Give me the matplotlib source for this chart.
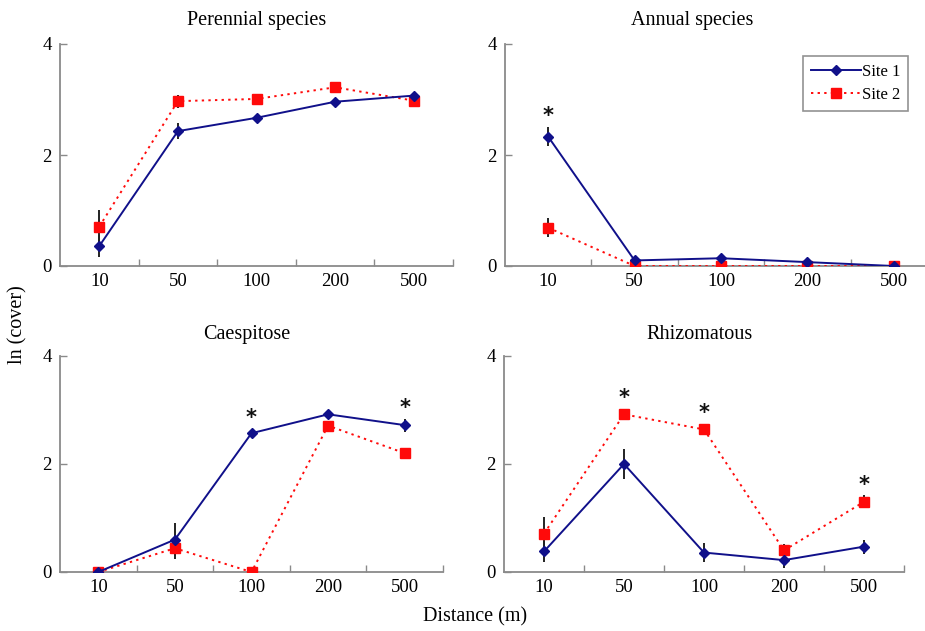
import matplotlib
matplotlib.use("Agg")
import matplotlib.pyplot as plt
from matplotlib.lines import Line2D

plt.rcParams.update({"font.family": ["Liberation Serif", "DejaVu Serif"]})

distances = ["10", "50", "100", "200", "500"]

titles = ["Perennial species", "Annual species", "Caespitose", "Rhizomatous"]

site1 = [
    [0.36, 2.43, 2.67, 2.96, 3.07],
    [2.33, 0.10, 0.14, 0.07, 0.00],
    [0.00, 0.60, 2.57, 2.92, 2.72],
    [0.38, 2.00, 0.36, 0.22, 0.47],
]
site1_err = [
    [0.20, 0.15, 0.05, 0.05, 0.07],
    [0.17, 0.03, 0.05, 0.03, 0.00],
    [0.00, 0.30, 0.08, 0.04, 0.12],
    [0.20, 0.27, 0.17, 0.15, 0.13],
]
site2 = [
    [0.71, 2.97, 3.01, 3.22, 2.98],
    [0.69, 0.00, 0.00, 0.00, 0.00],
    [0.00, 0.44, 0.00, 2.71, 2.20],
    [0.71, 2.92, 2.64, 0.40, 1.30],
]
site2_err = [
    [0.30, 0.12, 0.03, 0.05, 0.07],
    [0.17, 0.00, 0.00, 0.00, 0.00],
    [0.00, 0.20, 0.00, 0.07, 0.10],
    [0.30, 0.10, 0.10, 0.12, 0.12],
]
# significant differences (index of distance class) per panel
stars = [[], [0], [2, 4], [1, 2, 4]]

# axes rectangles in figure fractions (from the reference pixels)
W, H = 925, 631
rects = [
    (60, 44, 453, 266),
    (505, 44, 937, 266),
    (60, 356, 443, 572),
    (504, 356, 904, 572),
]
title_pos = [(257, 20), (692, 20), (247, 334), (700, 334)]

C1 = "#10108a"
C2 = "#ff0a0a"
SPINE = "#8a8a8a"

fig = plt.figure(figsize=(W / 100, H / 100), dpi=100)

for k in range(4):
    x0, y0, x1, y1 = rects[k]
    ax = fig.add_axes([x0 / W, 1 - y1 / H, (x1 - x0) / W, (y1 - y0) / H])
    xs = list(range(len(distances)))

    ax.errorbar(xs, site2[k], yerr=site2_err[k], fmt="none", ecolor="#222222",
                elinewidth=1.4, capsize=0, zorder=2)
    ax.errorbar(xs, site1[k], yerr=site1_err[k], fmt="none", ecolor="#222222",
                elinewidth=1.4, capsize=0, zorder=2)
    ax.plot(xs, site2[k], color=C2, ls=(0, (1.2, 2.2)), lw=1.4, marker="s",
            ms=7, mfc=C2, mec=C2, zorder=3)
    ax.plot(xs, site1[k], color=C1, ls="-", lw=1.4, marker="D",
            ms=5.5, mfc=C1, mec=C1, zorder=4)

    for i in stars[k]:
        top = max(site1[k][i] + site1_err[k][i], site2[k][i] + site2_err[k][i])
        ax.text(i, top + 0.2, "*", ha="center", va="center", fontsize=15,
                fontweight="bold", family="DejaVu Sans", color="#111111")

    ax.set_xlim(-0.5, len(distances) - 0.5)
    ax.set_ylim(0, 4)
    ax.set_yticks([0, 2, 4])
    ax.set_yticklabels(["0", "2", "4"])
    ax.set_xticks([i + 0.5 for i in range(len(distances))])
    ax.set_xticklabels([])
    ax.set_xticks(xs, minor=True)
    ax.set_xticklabels(distances, minor=True)
    ax.tick_params(axis="x", which="major", direction="in", length=5,
                   color=SPINE, width=1)
    ax.tick_params(axis="x", which="minor", length=0, pad=5, labelsize=13.5)
    ax.tick_params(axis="y", direction="in", length=5, color=SPINE, width=1,
                   labelsize=13.5, pad=6)
    for s in ("top", "right"):
        ax.spines[s].set_visible(False)
    for s in ("left", "bottom"):
        ax.spines[s].set_color(SPINE)
        ax.spines[s].set_linewidth(1.3)
    ax.set_facecolor("none")

    tx, ty = title_pos[k]
    fig.text(tx / W, 1 - ty / H, titles[k], ha="center", va="center", fontsize=14.5)

    if k == 1:
        handles = [
            Line2D([], [], color=C1, ls="-", lw=1.4, marker="D", ms=5.5),
            Line2D([], [], color=C2, ls=(0, (1.2, 2.2)), lw=1.4, marker="s", ms=7),
        ]
        leg = fig.legend(handles, ["Site 1", "Site 2"], loc="upper left",
                         bbox_to_anchor=(803 / W, 1 - 56 / H), fontsize=12,
                         frameon=True, fancybox=False, handlelength=3.0,
                         borderpad=0.45, labelspacing=0.45, handletextpad=0.1,
                         borderaxespad=0)
        leg.get_frame().set_edgecolor("#777777")
        leg.get_frame().set_linewidth(1.2)

fig.text(18 / W, 1 - 325 / H, "ln (cover)", rotation=90, ha="center",
         va="center", fontsize=14.5)
fig.text(475 / W, 1 - 617 / H, "Distance (m)", ha="center", va="center",
         fontsize=14.5)

fig.savefig("out.png", dpi=100)
